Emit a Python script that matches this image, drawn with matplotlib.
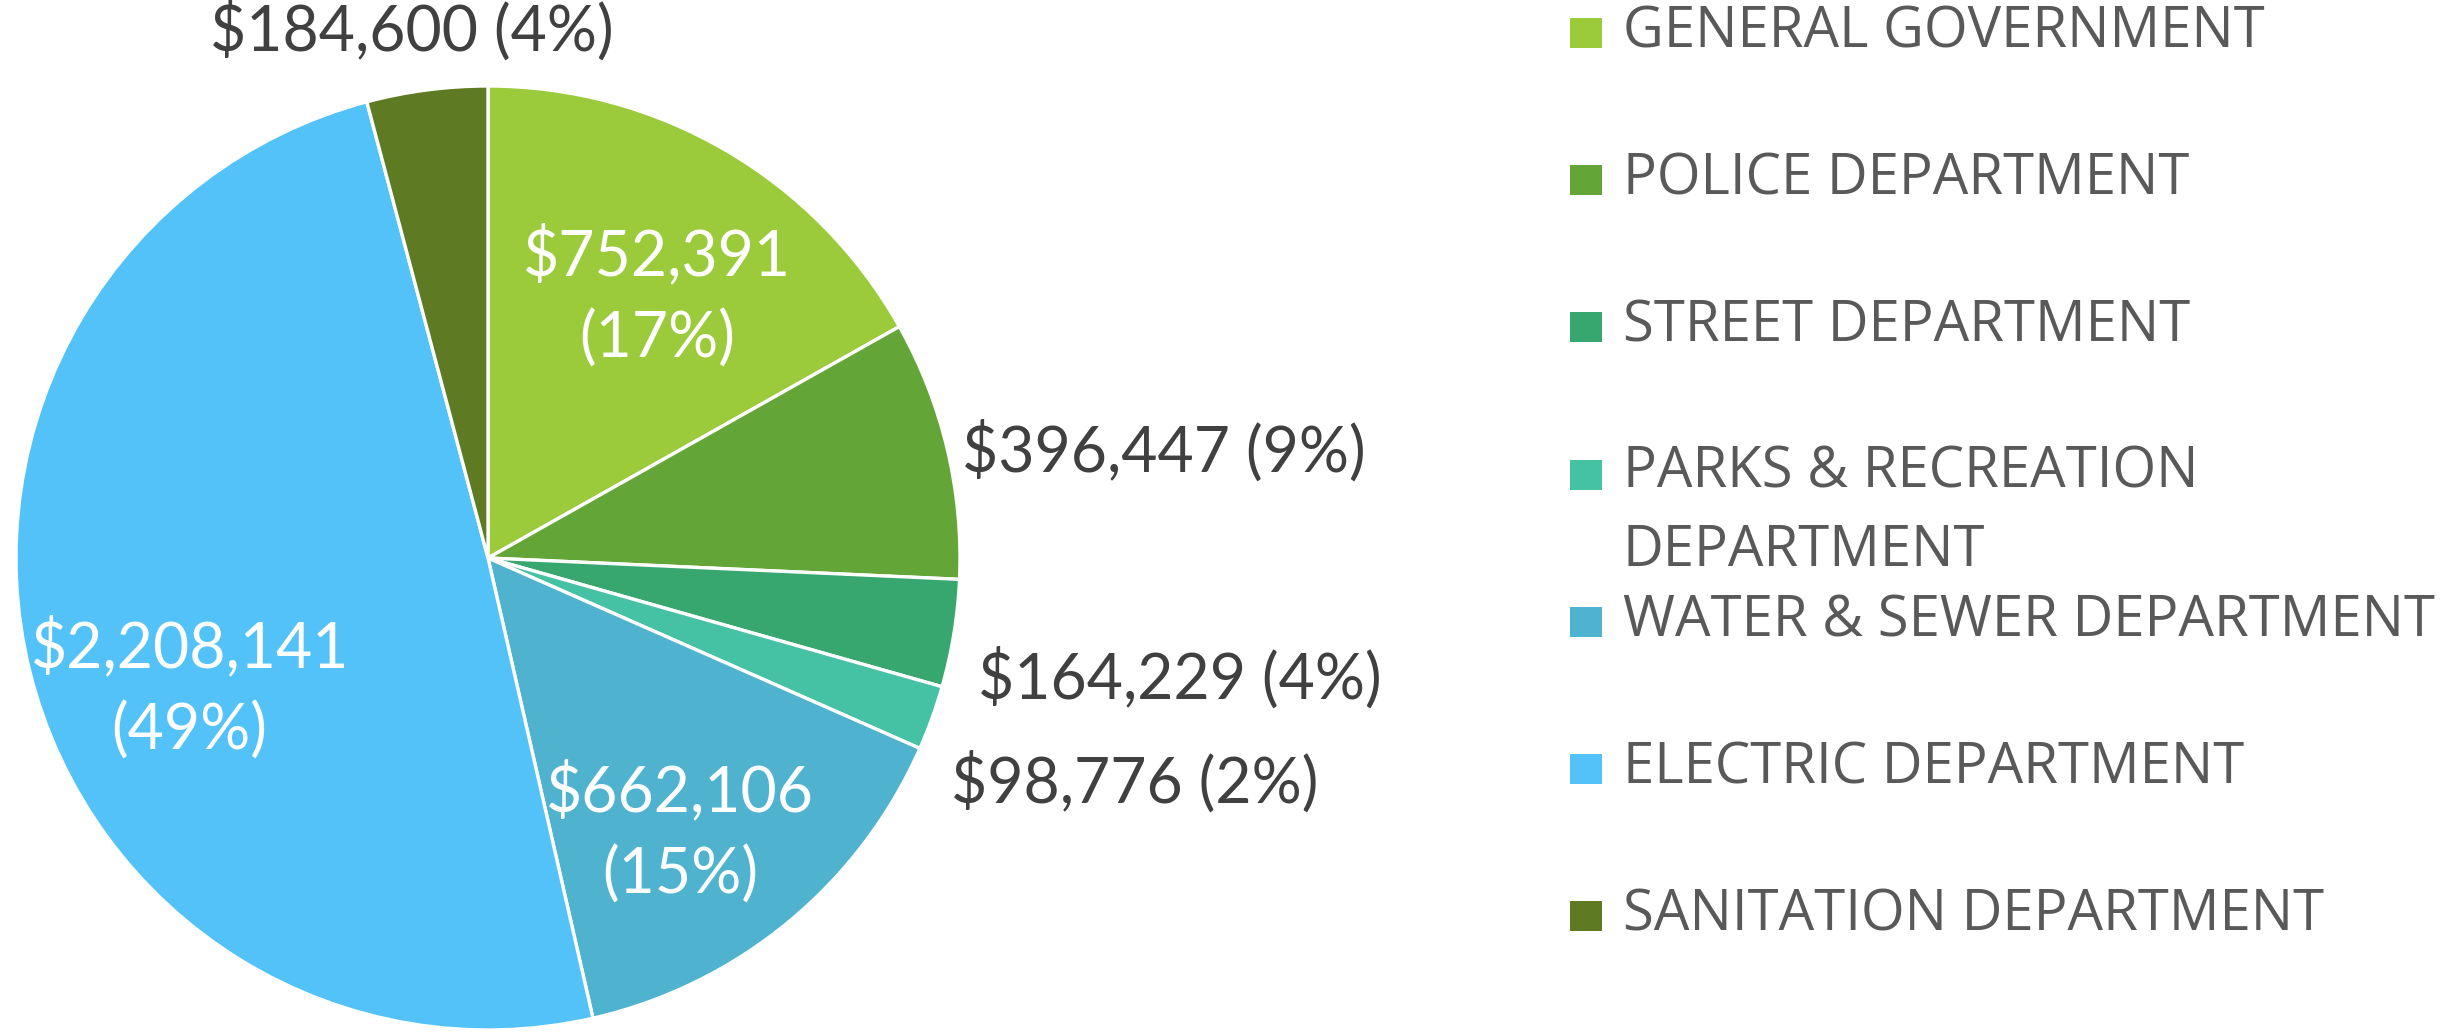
import numpy as np
import matplotlib
matplotlib.use("Agg")
import matplotlib.pyplot as plt
from matplotlib.patches import Rectangle

# budget by department
departments = ["GENERAL GOVERNMENT", "POLICE DEPARTMENT", "STREET DEPARTMENT",
               "PARKS & RECREATION\nDEPARTMENT", "WATER & SEWER DEPARTMENT",
               "ELECTRIC DEPARTMENT", "SANITATION DEPARTMENT"]
amounts = [752391, 396447, 164229, 98776, 662106, 2208141, 184600]
colors = ["#9BCB3B", "#64A537", "#38A76F", "#45C1A3", "#4FB3CF", "#53C2F8", "#5E7B23"]

# label placement: (radius, angle nudge in degrees, inside?)
label_pos = [(0.66, -2.5, True), (1.03, -0.7, False), (1.07, -4.6, False),
             (1.09, -6.0, False), (0.71, -4.6, True), (0.69, 9.8, True),
             (1.13, 0.8, False)]

W, H = 2463, 1032
fig = plt.figure(figsize=(W / 100, H / 100), dpi=100)
cx, cy, r = 488 / W, (H - 558) / H, 472
ax = fig.add_axes([cx - r / W, cy - r / H, 2 * r / W, 2 * r / H])
wedges, _ = ax.pie(amounts, colors=colors, startangle=90, counterclock=False,
                   wedgeprops=dict(edgecolor="white", linewidth=2.4))
ax.set_xlim(-1, 1)
ax.set_ylim(-1, 1)
ax.axis("off")

total = sum(amounts)
lbl_font = ["Lato", "DejaVu Sans"]
for w, amt, (rad, nudge, inside) in zip(wedges, amounts, label_pos):
    mid = np.deg2rad((w.theta1 + w.theta2) / 2 + nudge)
    x, y = rad * np.cos(mid), rad * np.sin(mid)
    pct = round(amt / total * 100)
    if inside:
        ax.text(x, y, f"${amt:,}\n({pct}%)", color="white", ha="center", va="center",
                fontsize=45, family=lbl_font, linespacing=1.48, clip_on=False)
    else:
        ha = "left" if x > 0.3 else "center"
        ax.text(x, y, f"${amt:,} ({pct}%)", color="#404040", ha=ha, va="center",
                fontsize=45, family=lbl_font, clip_on=False)

# legend drawn by hand to keep Excel-like spacing
leg_font = ["Open Sans", "DejaVu Sans"]
top = 33
step = 147.2
for i, (name, c) in enumerate(zip(departments, colors)):
    yc = 1 - (top + i * step) / H
    fig.patches.append(Rectangle((1570 / W, yc - 15 / H), 32 / W, 30 / H,
                                 transform=fig.transFigure, facecolor=c, edgecolor="none"))
    if "\n" in name:
        fig.text(1623 / W, yc + 30 / H, name, color="#595959", fontsize=40.5,
                 family=leg_font, ha="left", va="top", linespacing=1.5)
    else:
        fig.text(1623 / W, yc, name, color="#595959", fontsize=40.5,
                 family=leg_font, ha="left", va="center")

fig.savefig("out.png", dpi=100)
